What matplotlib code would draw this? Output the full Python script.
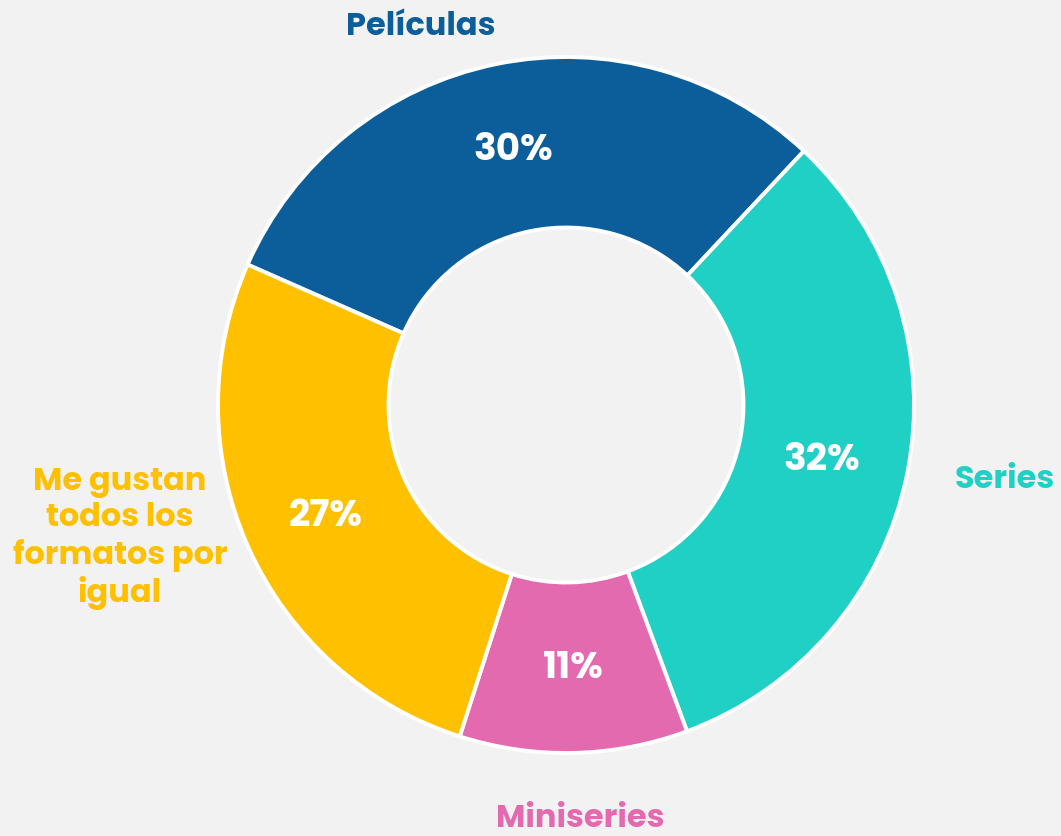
import matplotlib.pyplot as plt

W, H = 1061, 836
CX, CY, R = 566, 405, 348   # donut centre and outer radius, in pixels

labels = ["Películas", "Series", "Miniseries", "Me gustan\ntodos los\nformatos por\nigual"]
# shares; the printed labels are rounded
values = [30.4, 32.4, 10.6, 26.7]
colors = ["#0B5E99", "#21D0C5", "#E46AAF", "#FFC000"]

# where the labels sit (pixels from top-left)
label_pos = [(421, 27), (1005, 480), (580, 819), (120, 538)]
pct_pos = [(513, 152), (822, 461), (573, 670), (326, 517)]

BG = "#F3F2F2"
FONT = ["Poppins", "Lato", "DejaVu Sans"]

fig = plt.figure(figsize=(W / 100, H / 100), dpi=100)
fig.patch.set_facecolor(BG)
ax = fig.add_axes([(CX - R) / W, (H - CY - R) / H, 2 * R / W, 2 * R / H])
ax.set_facecolor(BG)

ax.pie(values, colors=colors, startangle=156.2, counterclock=False, radius=1,
       wedgeprops=dict(width=0.49, edgecolor="white", linewidth=2.8))
ax.set_xlim(-1, 1)
ax.set_ylim(-1, 1)
ax.set_aspect("equal")
ax.axis("off")


def to_data(px, py):
    return (px - CX) / R, (CY - py) / R


for lab, col, (px, py) in zip(labels, colors, label_pos):
    x, y = to_data(px, py)
    ax.text(x, y, lab, color=col, ha="center", va="center", fontsize=23,
            fontweight="bold", family=FONT, linespacing=1.18, clip_on=False)

for v, (px, py) in zip(values, pct_pos):
    x, y = to_data(px, py)
    ax.text(x, y, f"{round(v)}%", color="white", ha="center", va="center", fontsize=27,
            fontweight="bold", family=FONT)

fig.savefig("out.png", dpi=100, facecolor=BG)
